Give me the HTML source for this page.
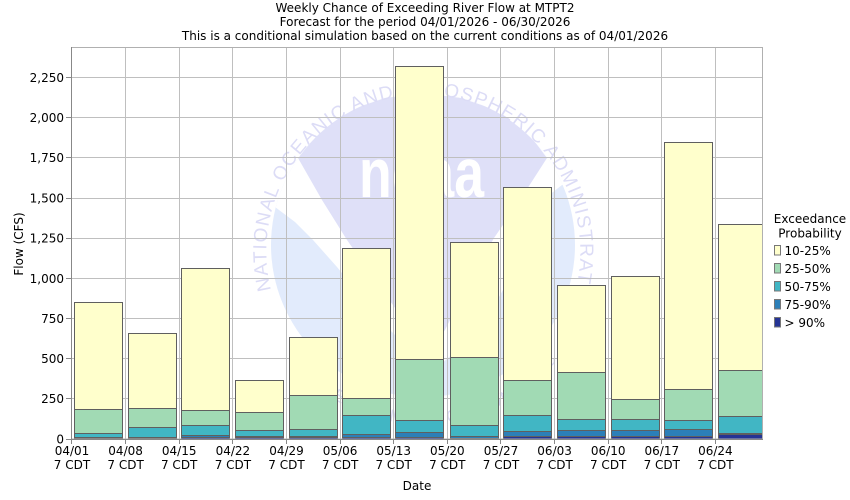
<!DOCTYPE html>
<html><head><meta charset="utf-8"><style>
html,body{margin:0;padding:0;background:#fff;}
svg{display:block;font-family:"DejaVu Sans","Liberation Sans",sans-serif;}
</style></head><body>
<svg width="850" height="500" viewBox="0 0 850 500" xmlns="http://www.w3.org/2000/svg">
<defs>
<clipPath id="circ"><circle cx="423" cy="245" r="152"/></clipPath>
<clipPath id="plot"><rect x="71.5" y="47" width="691" height="392.5"/></clipPath>
<path id="ringTop" d="M 271 290 A 157 157 0 1 1 577 284" fill="none"/>
<path id="ringBot" d="M 289 360 A 172 172 0 0 0 557 360" fill="none"/>
</defs>
<rect width="850" height="500" fill="#fff"/>
<!-- title -->
<g font-size="12" fill="#000" text-anchor="middle">
<text x="425" y="12">Weekly Chance of Exceeding River Flow at MTPT2</text>
<text x="425" y="26">Forecast for the period 04/01/2026 - 06/30/2026</text>
<text x="425" y="40">This is a conditional simulation based on the current conditions as of 04/01/2026</text>
</g>
<!-- watermark -->
<g>
<circle cx="423" cy="245" r="152" fill="#e2ebfc"/>
<g clip-path="url(#circ)">
<polygon fill="#fff" points="260,80 590,80 590,185 562,185 530,210 514,238 503,290 480,330 440,365 410,350 385,325 360,295 337,267 313,240 295,222 275,207 260,207"/>
<polygon fill="#dfe0f8" points="298,158 320,130 350,110 385,98 423,93 461,98 496,110 526,130 547,158 520,200 494,238 470,280 445,330 430,350 400,315 373,277 347,240 322,200"/>
</g>
<text x="359" y="197" font-family="Liberation Sans, sans-serif" font-weight="bold" font-size="70" fill="#fff" textLength="125" lengthAdjust="spacingAndGlyphs">noaa</text>
<text font-size="19" fill="#dcdcf6" font-family="Liberation Sans, sans-serif"><textPath href="#ringTop" textLength="600" lengthAdjust="spacing">NATIONAL OCEANIC AND ATMOSPHERIC ADMINISTRATION</textPath></text>
<text font-size="17" fill="#dcdcf6" font-family="Liberation Sans, sans-serif"><textPath href="#ringBot" textLength="320" lengthAdjust="spacing">U.S. DEPARTMENT OF COMMERCE</textPath></text>
</g>
<!-- grid -->
<g stroke="#bfbfbf" stroke-width="1" fill="none">
<line x1="71.5" x2="762.5" y1="398.5" y2="398.5"/>
<line x1="71.5" x2="762.5" y1="358.5" y2="358.5"/>
<line x1="71.5" x2="762.5" y1="318.5" y2="318.5"/>
<line x1="71.5" x2="762.5" y1="278.5" y2="278.5"/>
<line x1="71.5" x2="762.5" y1="238.5" y2="238.5"/>
<line x1="71.5" x2="762.5" y1="198.5" y2="198.5"/>
<line x1="71.5" x2="762.5" y1="157.5" y2="157.5"/>
<line x1="71.5" x2="762.5" y1="117.5" y2="117.5"/>
<line x1="71.5" x2="762.5" y1="77.5" y2="77.5"/>
<line x1="125.5" x2="125.5" y1="47" y2="439"/>
<line x1="179.5" x2="179.5" y1="47" y2="439"/>
<line x1="232.5" x2="232.5" y1="47" y2="439"/>
<line x1="286.5" x2="286.5" y1="47" y2="439"/>
<line x1="340.5" x2="340.5" y1="47" y2="439"/>
<line x1="393.5" x2="393.5" y1="47" y2="439"/>
<line x1="447.5" x2="447.5" y1="47" y2="439"/>
<line x1="500.5" x2="500.5" y1="47" y2="439"/>
<line x1="554.5" x2="554.5" y1="47" y2="439"/>
<line x1="608.5" x2="608.5" y1="47" y2="439"/>
<line x1="661.5" x2="661.5" y1="47" y2="439"/>
<line x1="715.5" x2="715.5" y1="47" y2="439"/>
</g>
<!-- bars -->
<g clip-path="url(#plot)" stroke="#5f5f5f" stroke-width="1">
<!-- bar 1 -->
<rect x="74.5" y="302.5" width="48" height="137" fill="#ffffcc"/>
<rect x="74.5" y="409.5" width="48" height="30" fill="#a1dab4"/>
<rect x="74.5" y="433.5" width="48" height="6" fill="#41b6c4"/>
<rect x="74.5" y="437.5" width="48" height="2" fill="#2c7fb8"/>
<rect x="74.5" y="438.5" width="48" height="1" fill="#253494"/>
<!-- bar 2 -->
<rect x="128.5" y="333.5" width="48" height="106" fill="#ffffcc"/>
<rect x="128.5" y="408.5" width="48" height="31" fill="#a1dab4"/>
<rect x="128.5" y="427.5" width="48" height="12" fill="#41b6c4"/>
<rect x="128.5" y="437.5" width="48" height="2" fill="#2c7fb8"/>
<rect x="128.5" y="438.5" width="48" height="1" fill="#253494"/>
<!-- bar 3 -->
<rect x="181.5" y="268.5" width="48" height="171" fill="#ffffcc"/>
<rect x="181.5" y="410.5" width="48" height="29" fill="#a1dab4"/>
<rect x="181.5" y="425.5" width="48" height="14" fill="#41b6c4"/>
<rect x="181.5" y="435.5" width="48" height="4" fill="#2c7fb8"/>
<rect x="181.5" y="437.5" width="48" height="2" fill="#253494"/>
<!-- bar 4 -->
<rect x="235.5" y="380.5" width="48" height="59" fill="#ffffcc"/>
<rect x="235.5" y="412.5" width="48" height="27" fill="#a1dab4"/>
<rect x="235.5" y="430.5" width="48" height="9" fill="#41b6c4"/>
<rect x="235.5" y="436.5" width="48" height="3" fill="#2c7fb8"/>
<rect x="235.5" y="437.5" width="48" height="2" fill="#253494"/>
<!-- bar 5 -->
<rect x="289.5" y="337.5" width="48" height="102" fill="#ffffcc"/>
<rect x="289.5" y="395.5" width="48" height="44" fill="#a1dab4"/>
<rect x="289.5" y="429.5" width="48" height="10" fill="#41b6c4"/>
<rect x="289.5" y="436.5" width="48" height="3" fill="#2c7fb8"/>
<rect x="289.5" y="437.5" width="48" height="2" fill="#253494"/>
<!-- bar 6 -->
<rect x="342.5" y="248.5" width="48" height="191" fill="#ffffcc"/>
<rect x="342.5" y="398.5" width="48" height="41" fill="#a1dab4"/>
<rect x="342.5" y="415.5" width="48" height="24" fill="#41b6c4"/>
<rect x="342.5" y="434.5" width="48" height="5" fill="#2c7fb8"/>
<rect x="342.5" y="437.5" width="48" height="2" fill="#253494"/>
<!-- bar 7 -->
<rect x="395.5" y="66.5" width="48" height="373" fill="#ffffcc"/>
<rect x="395.5" y="359.5" width="48" height="80" fill="#a1dab4"/>
<rect x="395.5" y="420.5" width="48" height="19" fill="#41b6c4"/>
<rect x="395.5" y="432.5" width="48" height="7" fill="#2c7fb8"/>
<rect x="395.5" y="437.5" width="48" height="2" fill="#253494"/>
<!-- bar 8 -->
<rect x="450.5" y="242.5" width="48" height="197" fill="#ffffcc"/>
<rect x="450.5" y="357.5" width="48" height="82" fill="#a1dab4"/>
<rect x="450.5" y="425.5" width="48" height="14" fill="#41b6c4"/>
<rect x="450.5" y="436.5" width="48" height="3" fill="#2c7fb8"/>
<rect x="450.5" y="438.5" width="48" height="1" fill="#253494"/>
<!-- bar 9 -->
<rect x="503.5" y="187.5" width="48" height="252" fill="#ffffcc"/>
<rect x="503.5" y="380.5" width="48" height="59" fill="#a1dab4"/>
<rect x="503.5" y="415.5" width="48" height="24" fill="#41b6c4"/>
<rect x="503.5" y="431.5" width="48" height="8" fill="#2c7fb8"/>
<rect x="503.5" y="436.5" width="48" height="3" fill="#253494"/>
<!-- bar 10 -->
<rect x="557.5" y="285.5" width="48" height="154" fill="#ffffcc"/>
<rect x="557.5" y="372.5" width="48" height="67" fill="#a1dab4"/>
<rect x="557.5" y="419.5" width="48" height="20" fill="#41b6c4"/>
<rect x="557.5" y="430.5" width="48" height="9" fill="#2c7fb8"/>
<rect x="557.5" y="436.5" width="48" height="3" fill="#253494"/>
<!-- bar 11 -->
<rect x="611.5" y="276.5" width="48" height="163" fill="#ffffcc"/>
<rect x="611.5" y="399.5" width="48" height="40" fill="#a1dab4"/>
<rect x="611.5" y="419.5" width="48" height="20" fill="#41b6c4"/>
<rect x="611.5" y="430.5" width="48" height="9" fill="#2c7fb8"/>
<rect x="611.5" y="436.5" width="48" height="3" fill="#253494"/>
<!-- bar 12 -->
<rect x="664.5" y="142.5" width="48" height="297" fill="#ffffcc"/>
<rect x="664.5" y="389.5" width="48" height="50" fill="#a1dab4"/>
<rect x="664.5" y="420.5" width="48" height="19" fill="#41b6c4"/>
<rect x="664.5" y="429.5" width="48" height="10" fill="#2c7fb8"/>
<rect x="664.5" y="436.5" width="48" height="3" fill="#253494"/>
<!-- bar 13 -->
<rect x="718.5" y="224.5" width="48" height="215" fill="#ffffcc"/>
<rect x="718.5" y="370.5" width="48" height="69" fill="#a1dab4"/>
<rect x="718.5" y="416.5" width="48" height="23" fill="#41b6c4"/>
<rect x="718.5" y="433.5" width="48" height="6" fill="#2c7fb8"/>
<rect x="718.5" y="434.5" width="48" height="5" fill="#253494"/>
</g>
<!-- plot border / axes -->
<rect x="71.5" y="47.5" width="691" height="391.5" fill="none" stroke="#b0b0b0" stroke-width="1"/>
<line x1="71.5" x2="71.5" y1="47" y2="440" stroke="#888" stroke-width="1"/>
<line x1="71" x2="763" y1="439.5" y2="439.5" stroke="#888" stroke-width="1"/>
<!-- y ticks -->
<g stroke="#888" stroke-width="1">
<line x1="66" x2="71" y1="439.5" y2="439.5"/>
<line x1="66" x2="71" y1="398.5" y2="398.5"/>
<line x1="66" x2="71" y1="358.5" y2="358.5"/>
<line x1="66" x2="71" y1="318.5" y2="318.5"/>
<line x1="66" x2="71" y1="278.5" y2="278.5"/>
<line x1="66" x2="71" y1="238.5" y2="238.5"/>
<line x1="66" x2="71" y1="198.5" y2="198.5"/>
<line x1="66" x2="71" y1="157.5" y2="157.5"/>
<line x1="66" x2="71" y1="117.5" y2="117.5"/>
<line x1="66" x2="71" y1="77.5" y2="77.5"/>
</g>
<g font-size="12" fill="#000" text-anchor="end">
<text x="64" y="443.5">0</text>
<text x="64" y="403">250</text>
<text x="64" y="363">500</text>
<text x="64" y="323">750</text>
<text x="64" y="283">1,000</text>
<text x="64" y="242.5">1,250</text>
<text x="64" y="202.5">1,500</text>
<text x="64" y="162">1,750</text>
<text x="64" y="122">2,000</text>
<text x="64" y="82">2,250</text>
</g>
<text x="23" y="244" font-size="12" fill="#000" text-anchor="middle" transform="rotate(-90 23 244)">Flow (CFS)</text>
<!-- x ticks -->
<g stroke="#888" stroke-width="1">
<line x1="71.5" x2="71.5" y1="439" y2="444"/>
<line x1="125.5" x2="125.5" y1="439" y2="444"/>
<line x1="179.5" x2="179.5" y1="439" y2="444"/>
<line x1="232.5" x2="232.5" y1="439" y2="444"/>
<line x1="286.5" x2="286.5" y1="439" y2="444"/>
<line x1="340.5" x2="340.5" y1="439" y2="444"/>
<line x1="393.5" x2="393.5" y1="439" y2="444"/>
<line x1="447.5" x2="447.5" y1="439" y2="444"/>
<line x1="500.5" x2="500.5" y1="439" y2="444"/>
<line x1="554.5" x2="554.5" y1="439" y2="444"/>
<line x1="608.5" x2="608.5" y1="439" y2="444"/>
<line x1="661.5" x2="661.5" y1="439" y2="444"/>
<line x1="715.5" x2="715.5" y1="439" y2="444"/>
</g>
<g font-size="12" fill="#000" text-anchor="middle">
<text x="72" y="455">04/01</text><text x="72" y="469">7 CDT</text>
<text x="125.6" y="455">04/08</text><text x="125.6" y="469">7 CDT</text>
<text x="179.2" y="455">04/15</text><text x="179.2" y="469">7 CDT</text>
<text x="232.9" y="455">04/22</text><text x="232.9" y="469">7 CDT</text>
<text x="286.5" y="455">04/29</text><text x="286.5" y="469">7 CDT</text>
<text x="340.1" y="455">05/06</text><text x="340.1" y="469">7 CDT</text>
<text x="393.7" y="455">05/13</text><text x="393.7" y="469">7 CDT</text>
<text x="447.3" y="455">05/20</text><text x="447.3" y="469">7 CDT</text>
<text x="501" y="455">05/27</text><text x="501" y="469">7 CDT</text>
<text x="554.6" y="455">06/03</text><text x="554.6" y="469">7 CDT</text>
<text x="608.2" y="455">06/10</text><text x="608.2" y="469">7 CDT</text>
<text x="661.8" y="455">06/17</text><text x="661.8" y="469">7 CDT</text>
<text x="715.4" y="455">06/24</text><text x="715.4" y="469">7 CDT</text>
<text x="417" y="490">Date</text>
</g>
<!-- legend -->
<g font-size="12" fill="#000">
<text x="810" y="223" text-anchor="middle">Exceedance</text>
<text x="810" y="237.5" text-anchor="middle">Probability</text>
<rect x="774.5" y="245.5" width="6" height="9.5" fill="#ffffcc" stroke="#777"/>
<text x="784.5" y="255">10-25%</text>
<rect x="774.5" y="263.5" width="6" height="9.5" fill="#a1dab4" stroke="#777"/>
<text x="784.5" y="273">25-50%</text>
<rect x="774.5" y="281.5" width="6" height="9.5" fill="#41b6c4" stroke="#777"/>
<text x="784.5" y="291">50-75%</text>
<rect x="774.5" y="299.5" width="6" height="9.5" fill="#2c7fb8" stroke="#777"/>
<text x="784.5" y="309">75-90%</text>
<rect x="774.5" y="317.5" width="6" height="9.5" fill="#253494" stroke="#777"/>
<text x="784.5" y="327">&gt; 90%</text>
</g>
</svg>
</body></html>
